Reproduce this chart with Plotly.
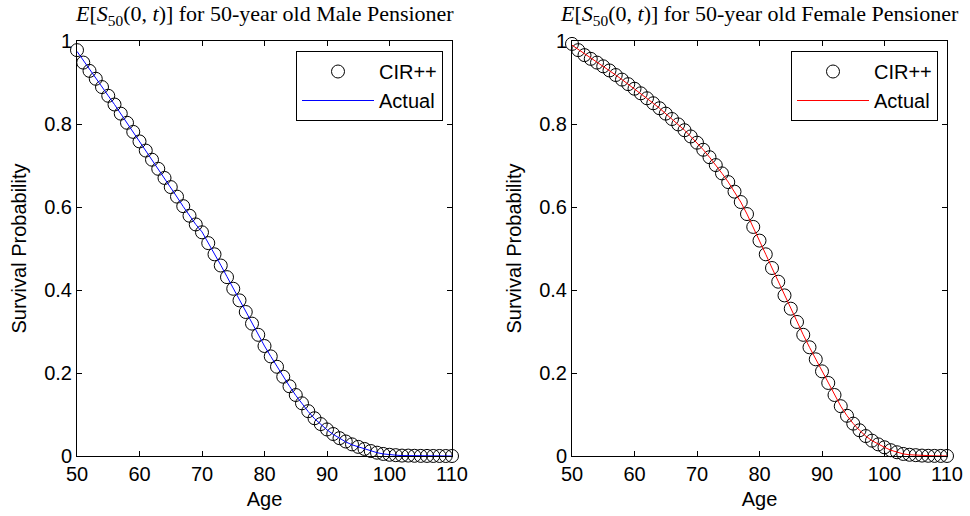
import plotly.graph_objects as go

ages = list(range(50, 111))

male_actual = [0.975, 0.953, 0.932, 0.911, 0.890, 0.868, 0.847, 0.825, 0.803, 0.780,
               0.757, 0.735, 0.713, 0.691, 0.669, 0.647, 0.624, 0.601, 0.578, 0.558,
               0.540, 0.514, 0.487, 0.460, 0.432, 0.404, 0.376, 0.348, 0.320, 0.292,
               0.265, 0.240, 0.215, 0.191, 0.168, 0.146, 0.126, 0.107, 0.090, 0.076,
               0.063, 0.052, 0.042, 0.034, 0.027, 0.022, 0.017, 0.012, 0.008, 0.005,
               0.003, 0.002, 0.001, 0.001, 0.0005, 0.0003, 0.0002, 0.0001, 0.0001, 0.0, 0.0]
male_cir = [0.978, 0.948, 0.928, 0.909, 0.889, 0.868, 0.847, 0.825, 0.803, 0.781,
            0.758, 0.736, 0.714, 0.692, 0.670, 0.648, 0.625, 0.602, 0.579, 0.558,
            0.539, 0.513, 0.486, 0.459, 0.431, 0.403, 0.375, 0.347, 0.319, 0.292,
            0.265, 0.240, 0.215, 0.191, 0.168, 0.147, 0.127, 0.108, 0.091, 0.077,
            0.064, 0.053, 0.043, 0.035, 0.028, 0.022, 0.017, 0.012, 0.008, 0.005,
            0.003, 0.002, 0.001, 0.001, 0.0005, 0.0003, 0.0002, 0.0001, 0.0001, 0.0, 0.0]

female_actual = [0.990, 0.980, 0.970, 0.960, 0.950, 0.940, 0.929, 0.918, 0.907, 0.896,
                 0.885, 0.874, 0.862, 0.850, 0.838, 0.825, 0.812, 0.799, 0.785, 0.770,
                 0.755, 0.738, 0.720, 0.701, 0.681, 0.660, 0.637, 0.612, 0.583, 0.552,
                 0.519, 0.486, 0.453, 0.420, 0.387, 0.355, 0.323, 0.292, 0.262, 0.233,
                 0.204, 0.176, 0.147, 0.120, 0.097, 0.078, 0.062, 0.048, 0.037, 0.028,
                 0.021, 0.014, 0.009, 0.005, 0.003, 0.002, 0.001, 0.0005, 0.0003, 0.0002, 0.0001]
female_cir = [0.993, 0.978, 0.966, 0.957, 0.948, 0.939, 0.929, 0.918, 0.907, 0.896,
              0.885, 0.874, 0.862, 0.850, 0.838, 0.825, 0.812, 0.799, 0.785, 0.770,
              0.755, 0.738, 0.720, 0.701, 0.681, 0.660, 0.637, 0.612, 0.583, 0.552,
              0.519, 0.486, 0.453, 0.420, 0.387, 0.355, 0.323, 0.292, 0.262, 0.233,
              0.204, 0.176, 0.147, 0.120, 0.097, 0.078, 0.062, 0.048, 0.037, 0.028,
              0.021, 0.014, 0.009, 0.005, 0.003, 0.002, 0.001, 0.0005, 0.0003, 0.0002, 0.0001]

x_ticks = [50, 60, 70, 80, 90, 100, 110]
y_ticks = [0, 0.2, 0.4, 0.6, 0.8, 1]
y_tick_labels = ["0", "0.2", "0.4", "0.6", "0.8", "1"]

titles = ["<i>E</i>[<i>S</i><sub>50</sub>(0, <i>t</i>)] for 50-year old Male Pensioner",
          "<i>E</i>[<i>S</i><sub>50</sub>(0, <i>t</i>)] for 50-year old Female Pensioner"]

W, H = 970, 516
sans = "Liberation Sans, Arial, sans-serif"
serif = "Liberation Serif, DejaVu Serif, serif"


def px(x):
    return x / W


def py(y):
    return (H - y) / H


fig = go.Figure()

panels = [
    dict(cir=male_cir, act=male_actual, color="#0000ff", xa="x", ya="y", legend="legend"),
    dict(cir=female_cir, act=female_actual, color="#ff0000", xa="x2", ya="y2", legend="legend2"),
]
for p in panels:
    fig.add_trace(go.Scatter(x=ages, y=p["cir"], mode="markers", name="CIR++",
                             marker=dict(symbol="circle-open", size=13, color="black",
                                         line=dict(width=1, color="black")),
                             xaxis=p["xa"], yaxis=p["ya"], legend=p["legend"], cliponaxis=False))
    fig.add_trace(go.Scatter(x=ages, y=p["act"], mode="lines", name="Actual",
                             line=dict(color=p["color"], width=1),
                             xaxis=p["xa"], yaxis=p["ya"], legend=p["legend"], cliponaxis=False))

ydom = [py(456), py(41)]
doms = [(px(77), px(452)), (px(572), px(947))]

axis_common = dict(showline=True, linecolor="black", linewidth=1, mirror="ticks",
                   ticks="inside", ticklen=5, tickcolor="black", tickwidth=1,
                   showgrid=False, zeroline=False, automargin=False,
                   tickfont=dict(family=sans, size=20, color="black"))
title_font = dict(family=sans, size=20, color="black")

fig.update_layout(
    width=W, height=H, margin=dict(l=0, r=0, t=0, b=0, autoexpand=False),
    paper_bgcolor="white", plot_bgcolor="white",
    xaxis=dict(domain=doms[0], range=[50, 110], tickvals=x_ticks, anchor="y",
               title=dict(text="Age", font=title_font, standoff=7), **axis_common),
    yaxis=dict(domain=ydom, range=[0, 1], tickvals=y_ticks, ticktext=y_tick_labels, anchor="x",
               title=dict(text="Survival Probability", font=title_font, standoff=12), **axis_common),
    xaxis2=dict(domain=doms[1], range=[50, 110], tickvals=x_ticks, anchor="y2",
                title=dict(text="Age", font=title_font, standoff=7), **axis_common),
    yaxis2=dict(domain=ydom, range=[0, 1], tickvals=y_ticks, ticktext=y_tick_labels, anchor="x2",
                title=dict(text="Survival Probability", font=title_font, standoff=12), **axis_common),
    legend=dict(x=px(443), y=py(51), xanchor="right", yanchor="top",
                bordercolor="black", borderwidth=1, bgcolor="white", itemwidth=72,
                font=dict(family=sans, size=20, color="black")),
    legend2=dict(x=px(938), y=py(51), xanchor="right", yanchor="top",
                 bordercolor="black", borderwidth=1, bgcolor="white", itemwidth=72,
                 font=dict(family=sans, size=20, color="black")),
    showlegend=True,
)

for i, t in enumerate(titles):
    fig.add_annotation(text=t, x=(doms[i][0] + doms[i][1]) / 2, y=py(15),
                       xref="paper", yref="paper", xanchor="center", yanchor="middle",
                       showarrow=False, font=dict(family=serif, size=22, color="black"))

fig.write_html("out.html", config={"displayModeBar": False},
               post_script="document.body.style.margin='0';document.body.style.overflow='hidden';")
